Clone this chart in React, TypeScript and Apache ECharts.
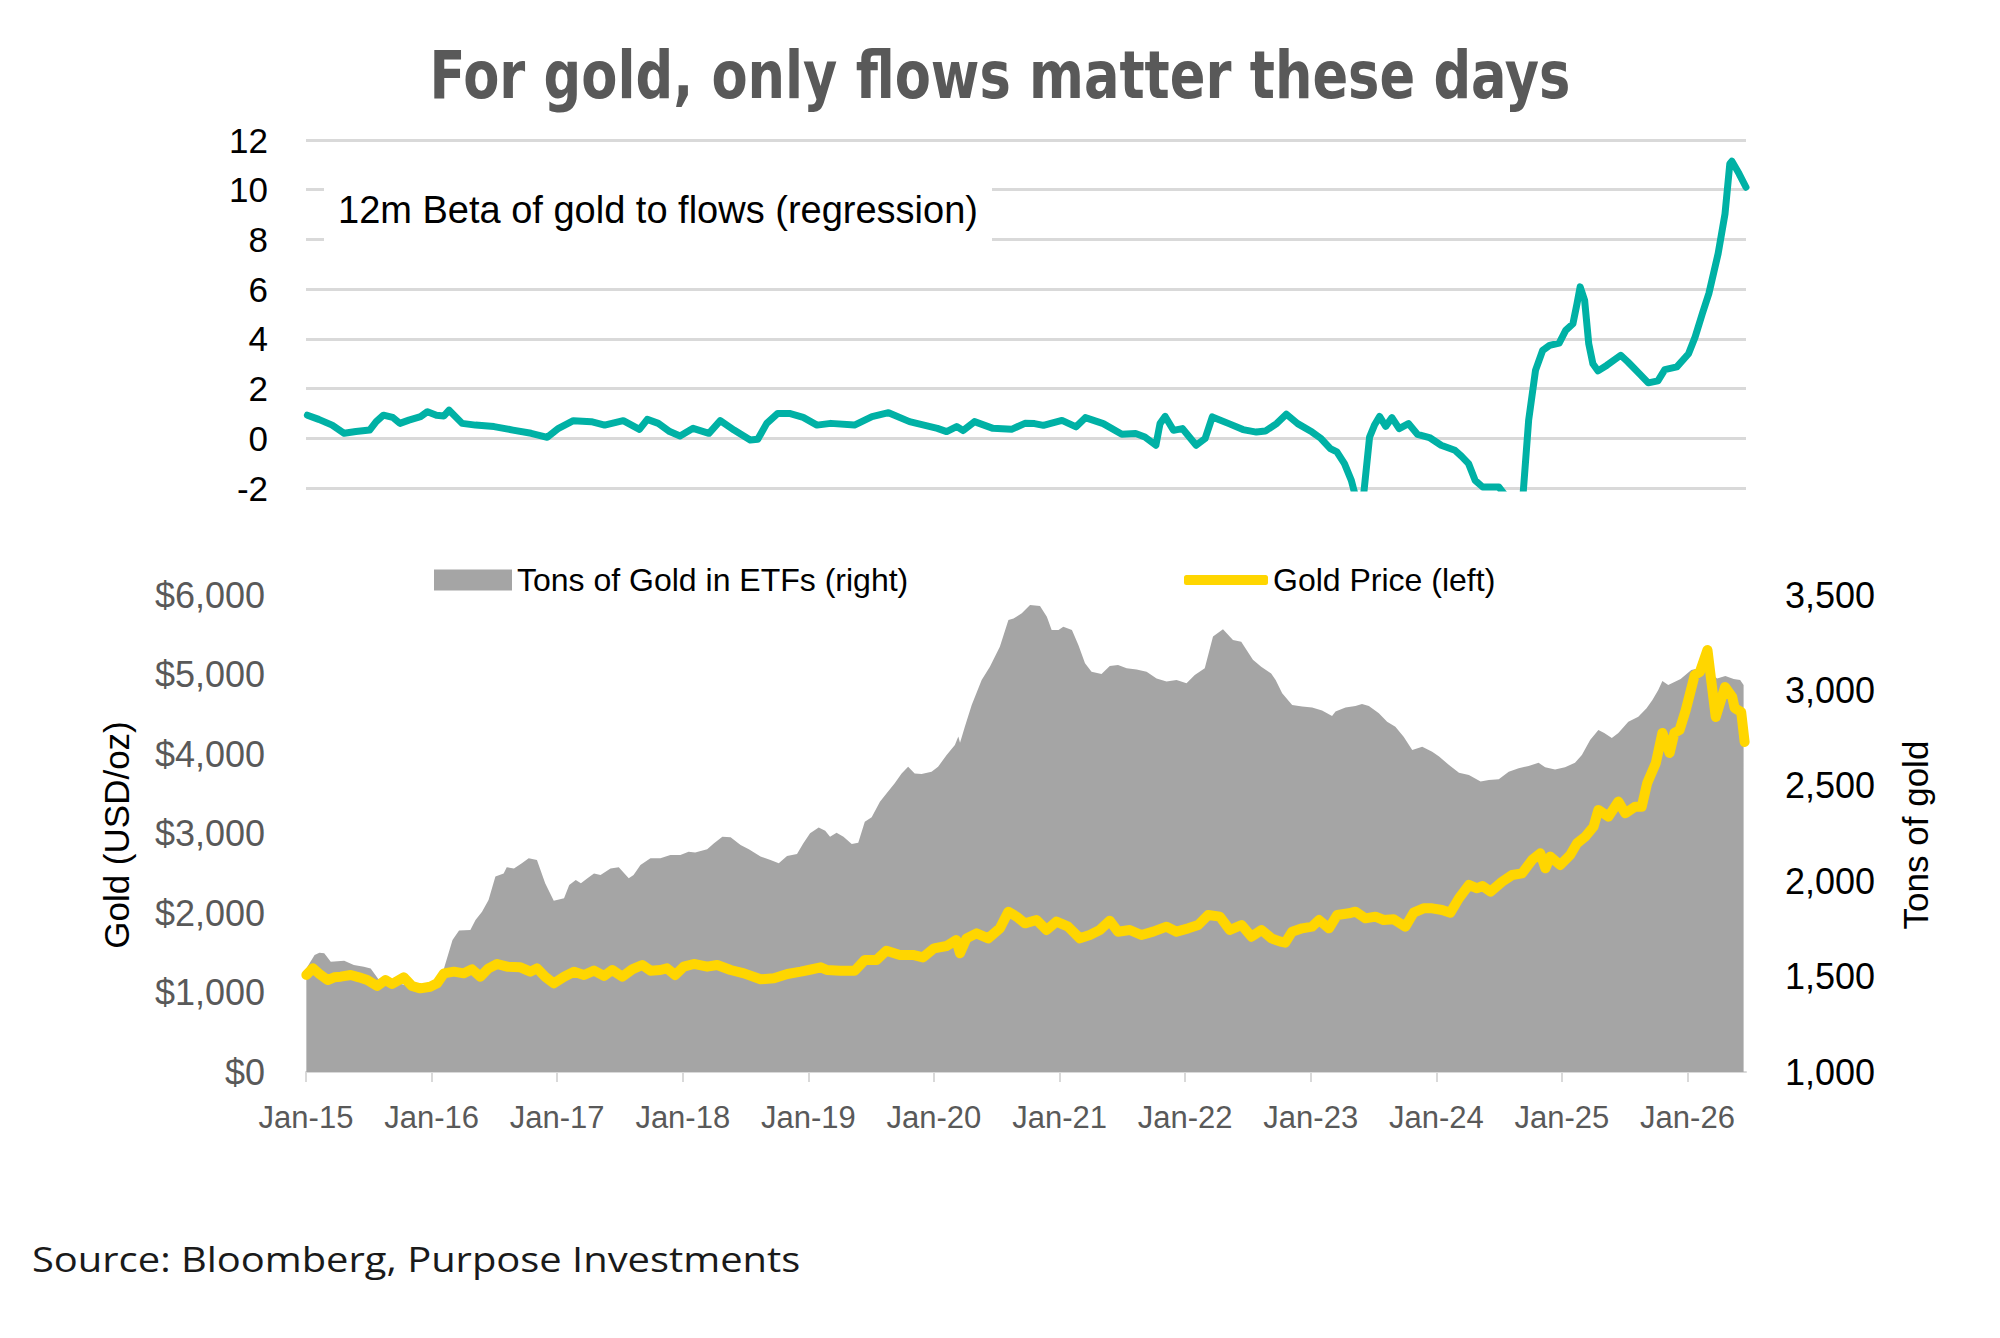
import React, { useEffect, useRef } from "react";
import * as echarts from "echarts";

// x-axis labels sit on January of each year
const yearTicks = [2015, 2016, 2017, 2018, 2019, 2020, 2021, 2022, 2023, 2024, 2025, 2026];

// 12m beta of gold to ETF flows
const betaPoints: [string, number][] = [
  ["2015-01-05", 0.93], ["2015-02-07", 0.76], ["2015-03-18", 0.53], ["2015-04-22", 0.2],
  ["2015-05-26", 0.27], ["2015-07-05", 0.33], ["2015-07-24", 0.67], ["2015-08-14", 0.93],
  ["2015-09-10", 0.84], ["2015-10-01", 0.6], ["2015-10-27", 0.73], ["2015-11-30", 0.87],
  ["2015-12-20", 1.07], ["2016-01-15", 0.93], ["2016-02-06", 0.9], ["2016-02-21", 1.13],
  ["2016-03-30", 0.6], ["2016-05-08", 0.53], ["2016-07-01", 0.47], ["2016-08-25", 0.33],
  ["2016-10-17", 0.2], ["2016-12-03", 0.04], ["2017-01-05", 0.4], ["2017-02-17", 0.71],
  ["2017-04-10", 0.67], ["2017-05-19", 0.53], ["2017-07-12", 0.71], ["2017-08-28", 0.36],
  ["2017-09-20", 0.76], ["2017-10-22", 0.6], ["2017-11-24", 0.27], ["2017-12-24", 0.09],
  ["2018-01-31", 0.4], ["2018-03-18", 0.2], ["2018-04-20", 0.71], ["2018-05-30", 0.33],
  ["2018-07-16", -0.07], ["2018-08-07", -0.04], ["2018-09-02", 0.6], ["2018-10-04", 1.0],
  ["2018-11-07", 1.0], ["2018-12-17", 0.84], ["2019-01-26", 0.53], ["2019-03-07", 0.6],
  ["2019-05-15", 0.53], ["2019-07-05", 0.87], ["2019-08-22", 1.03], ["2019-10-22", 0.67],
  ["2020-01-11", 0.4], ["2020-02-07", 0.27], ["2020-03-07", 0.47], ["2020-03-26", 0.31],
  ["2020-04-28", 0.67], ["2020-06-21", 0.4], ["2020-08-14", 0.36], ["2020-09-22", 0.6],
  ["2020-10-20", 0.59], ["2020-11-15", 0.52], ["2021-01-08", 0.72], ["2021-02-18", 0.46],
  ["2021-03-17", 0.83], ["2021-05-08", 0.59], ["2021-07-01", 0.16], ["2021-08-10", 0.19],
  ["2021-09-06", 0.05], ["2021-10-08", -0.28], ["2021-10-20", 0.59], ["2021-11-04", 0.88],
  ["2021-11-28", 0.32], ["2021-12-24", 0.39], ["2022-02-02", -0.28], ["2022-02-28", -0.01],
  ["2022-03-21", 0.86], ["2022-05-08", 0.59], ["2022-06-18", 0.35], ["2022-07-27", 0.25],
  ["2022-08-22", 0.29], ["2022-09-24", 0.59], ["2022-10-22", 0.97], ["2022-11-24", 0.59],
  ["2023-01-05", 0.25], ["2023-01-31", -0.01], ["2023-02-27", -0.42], ["2023-03-18", -0.55],
  ["2023-04-09", -1.02], ["2023-04-29", -1.69], ["2023-05-16", -2.6], ["2023-06-02", -2.5],
  ["2023-06-21", 0.05], ["2023-07-05", 0.52], ["2023-07-20", 0.88], ["2023-08-07", 0.48],
  ["2023-08-25", 0.83], ["2023-09-15", 0.39], ["2023-10-12", 0.59], ["2023-11-07", 0.16],
  ["2023-12-12", 0.03], ["2024-01-15", -0.28], ["2024-02-24", -0.48], ["2024-03-14", -0.72],
  ["2024-04-04", -1.02], ["2024-04-23", -1.69], ["2024-05-15", -1.96], ["2024-07-01", -1.96],
  ["2024-07-20", -2.3], ["2024-08-18", -3.2], ["2024-09-09", -2.4], ["2024-09-26", 0.72],
  ["2024-10-16", 2.73], ["2024-11-06", 3.54], ["2024-11-26", 3.74], ["2024-12-24", 3.83],
  ["2025-01-12", 4.34], ["2025-02-02", 4.61], ["2025-02-14", 5.42], ["2025-02-23", 6.09],
  ["2025-03-08", 5.55], ["2025-03-20", 3.8], ["2025-04-01", 3.0], ["2025-04-16", 2.71],
  ["2025-05-12", 2.94], ["2025-06-21", 3.34], ["2025-07-12", 3.07], ["2025-08-14", 2.6],
  ["2025-09-09", 2.23], ["2025-10-07", 2.31], ["2025-10-27", 2.76], ["2025-12-01", 2.87],
  ["2026-01-04", 3.4], ["2026-01-23", 4.07], ["2026-02-13", 5.01], ["2026-03-04", 5.82],
  ["2026-03-31", 7.43], ["2026-04-20", 9.03], ["2026-05-04", 11.05], ["2026-05-10", 11.15],
  ["2026-05-31", 10.64], ["2026-06-20", 10.1],
];

// tons of gold held in ETFs (right axis)
const etfPoints: [string, number][] = [
  ["2015-01-02", 1543], ["2015-01-26", 1613], ["2015-02-09", 1625], ["2015-02-23", 1622],
  ["2015-03-14", 1578], ["2015-04-22", 1583], ["2015-05-20", 1561], ["2015-06-18", 1552],
  ["2015-07-08", 1543], ["2015-08-01", 1482], ["2015-09-13", 1470], ["2015-11-01", 1450],
  ["2015-12-28", 1440], ["2016-01-22", 1460], ["2016-02-06", 1543], ["2016-03-02", 1692],
  ["2016-03-21", 1741], ["2016-04-23", 1744], ["2016-05-08", 1797], ["2016-05-27", 1840],
  ["2016-06-15", 1901], ["2016-07-05", 2024], ["2016-07-29", 2041], ["2016-08-07", 2073],
  ["2016-08-28", 2067], ["2016-09-20", 2094], ["2016-10-10", 2120], ["2016-11-03", 2111],
  ["2016-11-27", 1989], ["2016-12-22", 1898], ["2017-01-21", 1910], ["2017-02-05", 1980],
  ["2017-02-24", 2006], ["2017-03-11", 1989], ["2017-03-30", 2015], ["2017-04-18", 2041],
  ["2017-05-07", 2032], ["2017-06-05", 2067], ["2017-06-29", 2073], ["2017-07-28", 2015],
  ["2017-08-11", 2032], ["2017-08-31", 2085], ["2017-09-29", 2120], ["2017-10-28", 2120],
  ["2017-11-26", 2137], ["2017-12-25", 2137], ["2018-01-18", 2155], ["2018-02-06", 2150],
  ["2018-03-13", 2167], ["2018-04-01", 2198], ["2018-04-26", 2233], ["2018-05-20", 2230],
  ["2018-06-18", 2190], ["2018-07-12", 2167], ["2018-08-15", 2129], ["2018-09-13", 2111],
  ["2018-10-07", 2094], ["2018-10-31", 2132], ["2018-11-29", 2143], ["2018-12-17", 2198],
  ["2019-01-06", 2251], ["2019-01-31", 2282], ["2019-02-19", 2265], ["2019-03-05", 2233],
  ["2019-03-24", 2254], ["2019-04-13", 2233], ["2019-05-07", 2195], ["2019-05-26", 2202],
  ["2019-06-14", 2312], ["2019-07-04", 2335], ["2019-07-28", 2417], ["2019-08-16", 2460],
  ["2019-09-09", 2513], ["2019-09-29", 2565], ["2019-10-18", 2600], ["2019-11-06", 2565],
  ["2019-11-26", 2562], ["2019-12-25", 2574], ["2020-01-13", 2600], ["2020-02-07", 2661],
  ["2020-03-02", 2714], ["2020-03-12", 2758], ["2020-03-17", 2726], ["2020-03-31", 2810],
  ["2020-04-20", 2923], ["2020-05-19", 3054], ["2020-06-12", 3124], ["2020-07-11", 3229],
  ["2020-08-05", 3369], ["2020-08-20", 3377], ["2020-09-13", 3404], ["2020-10-07", 3448],
  ["2020-11-05", 3442], ["2020-11-25", 3386], ["2020-12-09", 3316], ["2020-12-29", 3316],
  ["2021-01-12", 3334], ["2021-02-06", 3316], ["2021-02-25", 3237], ["2021-03-16", 3142],
  ["2021-04-04", 3098], ["2021-05-03", 3086], ["2021-05-27", 3128], ["2021-06-20", 3133],
  ["2021-07-15", 3116], ["2021-08-13", 3110], ["2021-09-11", 3098], ["2021-10-10", 3063],
  ["2021-11-08", 3046], ["2021-12-07", 3054], ["2022-01-05", 3037], ["2022-01-29", 3081],
  ["2022-02-27", 3116], ["2022-03-23", 3282], ["2022-04-21", 3320], ["2022-05-20", 3264],
  ["2022-06-13", 3255], ["2022-07-17", 3160], ["2022-08-10", 3124], ["2022-09-08", 3089],
  ["2022-09-21", 3055], ["2022-10-10", 2985], ["2022-11-08", 2923], ["2022-12-07", 2915],
  ["2023-01-05", 2911], ["2023-02-03", 2894], ["2023-03-04", 2866], ["2023-03-14", 2889],
  ["2023-04-12", 2911], ["2023-05-11", 2918], ["2023-05-30", 2929], ["2023-06-19", 2918],
  ["2023-07-18", 2880], ["2023-08-11", 2836], ["2023-09-04", 2810], ["2023-09-28", 2757],
  ["2023-10-23", 2688], ["2023-11-21", 2705], ["2023-12-20", 2679], ["2024-01-09", 2653],
  ["2024-02-07", 2609], ["2024-03-07", 2569], ["2024-04-05", 2557], ["2024-05-09", 2522],
  ["2024-06-02", 2531], ["2024-07-01", 2534], ["2024-07-30", 2574], ["2024-08-28", 2592],
  ["2024-09-26", 2604], ["2024-10-25", 2621], ["2024-11-13", 2597], ["2024-12-12", 2586],
  ["2025-01-10", 2597], ["2025-02-08", 2621], ["2025-02-28", 2661], ["2025-03-24", 2740],
  ["2025-04-17", 2792], ["2025-05-04", 2777], ["2025-05-26", 2750], ["2025-06-14", 2777],
  ["2025-07-13", 2836], ["2025-08-11", 2862], ["2025-09-04", 2906], ["2025-09-21", 2950],
  ["2025-10-08", 3002], ["2025-10-20", 3049], ["2025-11-06", 3028], ["2025-12-12", 3060],
  ["2026-01-12", 3107], ["2026-02-06", 3117], ["2026-03-04", 3098], ["2026-03-28", 3063],
  ["2026-04-21", 3075], ["2026-05-15", 3060], ["2026-06-03", 3055], ["2026-06-13", 3028],
];

// gold price in USD/oz (left axis)
const goldPoints: [string, number][] = [
  ["2015-01-02", 1220], ["2015-01-21", 1304], ["2015-02-09", 1233], ["2015-03-05", 1157],
  ["2015-03-24", 1191], ["2015-04-12", 1199], ["2015-05-11", 1220], ["2015-06-04", 1191],
  ["2015-06-28", 1157], ["2015-07-27", 1082], ["2015-08-20", 1157], ["2015-09-08", 1107],
  ["2015-10-12", 1191], ["2015-11-05", 1082], ["2015-11-29", 1052], ["2015-12-28", 1073],
  ["2016-01-17", 1115], ["2016-02-06", 1241], ["2016-03-06", 1262], ["2016-04-04", 1241],
  ["2016-04-28", 1291], ["2016-05-22", 1199], ["2016-06-15", 1304], ["2016-07-10", 1359],
  ["2016-08-08", 1325], ["2016-09-16", 1317], ["2016-10-15", 1262], ["2016-11-03", 1304],
  ["2016-11-27", 1199], ["2016-12-22", 1115], ["2017-01-21", 1199], ["2017-02-19", 1262],
  ["2017-03-20", 1220], ["2017-04-18", 1275], ["2017-05-17", 1208], ["2017-06-10", 1283],
  ["2017-07-09", 1199], ["2017-08-07", 1291], ["2017-09-05", 1346], ["2017-09-29", 1275],
  ["2017-10-28", 1283], ["2017-11-16", 1304], ["2017-12-10", 1220], ["2018-01-04", 1325],
  ["2018-02-02", 1359], ["2018-03-13", 1325], ["2018-04-11", 1346], ["2018-05-20", 1283],
  ["2018-06-28", 1241], ["2018-08-15", 1166], ["2018-09-23", 1178], ["2018-11-01", 1233],
  ["2018-12-10", 1262], ["2019-01-02", 1283], ["2019-02-06", 1317], ["2019-02-24", 1283],
  ["2019-04-03", 1275], ["2019-05-16", 1275], ["2019-06-14", 1409], ["2019-07-18", 1409],
  ["2019-08-16", 1526], ["2019-09-24", 1472], ["2019-11-01", 1472], ["2019-11-30", 1442],
  ["2020-01-01", 1556], ["2020-02-07", 1585], ["2020-03-06", 1660], ["2020-03-17", 1493],
  ["2020-04-05", 1681], ["2020-05-04", 1744], ["2020-06-07", 1681], ["2020-07-11", 1807],
  ["2020-08-05", 2017], ["2020-08-29", 1954], ["2020-09-22", 1870], ["2020-10-26", 1912],
  ["2020-11-24", 1786], ["2020-12-23", 1891], ["2021-01-26", 1828], ["2021-03-01", 1681],
  ["2021-03-30", 1723], ["2021-04-28", 1786], ["2021-05-27", 1904], ["2021-06-20", 1765],
  ["2021-07-24", 1786], ["2021-08-27", 1723], ["2021-09-30", 1765], ["2021-11-08", 1828],
  ["2021-12-07", 1765], ["2022-01-10", 1807], ["2022-02-08", 1849], ["2022-03-09", 1975],
  ["2022-04-12", 1954], ["2022-05-11", 1786], ["2022-06-14", 1849], ["2022-07-13", 1702],
  ["2022-08-11", 1786], ["2022-09-09", 1681], ["2022-10-05", 1640], ["2022-10-19", 1627],
  ["2022-11-08", 1765], ["2022-12-07", 1807], ["2023-01-05", 1828], ["2023-01-25", 1912],
  ["2023-02-23", 1807], ["2023-03-19", 1975], ["2023-04-22", 1996], ["2023-05-11", 2017],
  ["2023-06-09", 1933], ["2023-07-08", 1954], ["2023-08-01", 1912], ["2023-08-30", 1920],
  ["2023-10-03", 1828], ["2023-10-27", 2004], ["2023-11-25", 2059], ["2023-12-20", 2059],
  ["2024-01-18", 2038], ["2024-02-11", 2004], ["2024-03-07", 2185], ["2024-04-05", 2353],
  ["2024-04-29", 2311], ["2024-05-14", 2340], ["2024-06-07", 2269], ["2024-07-11", 2394],
  ["2024-08-09", 2478], ["2024-09-07", 2499], ["2024-10-06", 2667], ["2024-10-30", 2751],
  ["2024-11-14", 2562], ["2024-11-28", 2709], ["2024-12-27", 2604], ["2025-01-25", 2730],
  ["2025-02-14", 2877], ["2025-03-10", 2960], ["2025-04-03", 3086], ["2025-04-17", 3296],
  ["2025-05-16", 3212], ["2025-06-14", 3401], ["2025-07-04", 3254], ["2025-08-02", 3338],
  ["2025-08-21", 3338], ["2025-09-06", 3636], ["2025-10-01", 3887], ["2025-10-20", 4265],
  ["2025-11-10", 4013], ["2025-11-24", 4265], ["2025-12-09", 4302], ["2025-12-27", 4554],
  ["2026-01-22", 4994], ["2026-02-06", 5032], ["2026-02-28", 5309], ["2026-03-24", 4466],
  ["2026-04-20", 4843], ["2026-05-11", 4717], ["2026-05-18", 4579], ["2026-06-06", 4529],
  ["2026-06-16", 4151],
];

const toYear = (s: string) => {
  const [y, m, d] = s.split("-").map(Number);
  const start = Date.UTC(y, 0, 1);
  const end = Date.UTC(y + 1, 0, 1);
  return y + (Date.UTC(y, m - 1, d) - start) / (end - start);
};

const toXY = (pts: [string, number][]) => pts.map(([d, v]) => [toYear(d), v]);

const SANS = '"Liberation Sans", Arial, sans-serif';
const NARROW = '"Liberation Sans Narrow", "DejaVu Sans Condensed", "Liberation Sans", sans-serif';

const App = () => {
  const chartRef = useRef<HTMLDivElement>(null);

  useEffect(() => {
    if (!chartRef.current) return;
    const chart = echarts.init(chartRef.current, undefined, { renderer: "svg" });

    const xMin = yearTicks[0];
    const xMax = toYear(betaPoints[betaPoints.length - 1][0]);

    const option = {
      animation: false,
      backgroundColor: "#ffffff",
      grid: [
        { left: 306, right: 254, top: 140, height: 348 },
        { left: 306, right: 254, top: 595, height: 477 },
      ],
      legend: [
        {
          left: 429,
          top: 559,
          itemWidth: 78,
          itemHeight: 21,
          textStyle: { fontFamily: SANS, fontSize: 32, color: "#000" },
          data: [{ name: "Tons of Gold in ETFs (right)", icon: "rect", itemStyle: { color: "#a5a5a5" } }],
        },
        {
          left: 1179,
          top: 559,
          itemWidth: 84,
          itemHeight: 10,
          textStyle: { fontFamily: SANS, fontSize: 32, color: "#000" },
          data: [{ name: "Gold Price (left)", icon: "roundRect", itemStyle: { color: "#ffd600" } }],
        },
      ],
      xAxis: [
        { type: "value", gridIndex: 0, min: xMin, max: xMax, show: false },
        {
          type: "value",
          gridIndex: 1,
          min: xMin,
          max: xMax,
          splitLine: { show: false },
          axisLine: { lineStyle: { color: "#d9d9d9", width: 2 } },
          axisTick: { show: true, length: 10, lineStyle: { color: "#d9d9d9", width: 2 }, customValues: yearTicks },
          axisLabel: {
            customValues: yearTicks,
            margin: 30,
            color: "#595959",
            fontFamily: SANS,
            fontSize: 31,
            formatter: (v: number) => "Jan-" + String(Math.round(v) - 2000),
          },
        },
      ],
      yAxis: [
        {
          type: "value",
          gridIndex: 0,
          min: -2,
          max: 12,
          interval: 2,
          axisLine: { show: false },
          axisTick: { show: false },
          splitLine: { lineStyle: { color: "#d9d9d9", width: 3 } },
          axisLabel: { margin: 38, color: "#000", fontFamily: SANS, fontSize: 35 },
        },
        {
          type: "value",
          gridIndex: 1,
          min: 0,
          max: 6000,
          interval: 1000,
          axisLine: { show: false },
          axisTick: { show: false },
          splitLine: { show: false },
          axisLabel: {
            margin: 41,
            color: "#595959",
            fontFamily: SANS,
            fontSize: 36,
            formatter: (v: number) => "$" + v.toLocaleString("en-US"),
          },
        },
        {
          type: "value",
          gridIndex: 1,
          position: "right",
          min: 1000,
          max: 3500,
          interval: 500,
          axisLine: { show: false },
          axisTick: { show: false },
          splitLine: { show: false },
          axisLabel: {
            margin: 39,
            color: "#000",
            fontFamily: SANS,
            fontSize: 36,
            formatter: (v: number) => v.toLocaleString("en-US"),
          },
        },
      ],
      series: [
        {
          name: "12m Beta",
          type: "line",
          xAxisIndex: 0,
          yAxisIndex: 0,
          data: toXY(betaPoints),
          symbol: "none",
          clip: true,
          color: "#00b1a5",
          lineStyle: { color: "#00b1a5", width: 7, join: "round", cap: "round" },
        },
        {
          name: "Tons of Gold in ETFs (right)",
          type: "line",
          xAxisIndex: 1,
          yAxisIndex: 2,
          data: toXY(etfPoints),
          symbol: "none",
          color: "#a5a5a5",
          lineStyle: { width: 0 },
          areaStyle: { color: "#a5a5a5", opacity: 1, origin: "start" },
        },
        {
          name: "Gold Price (left)",
          type: "line",
          xAxisIndex: 1,
          yAxisIndex: 1,
          data: toXY(goldPoints),
          symbol: "none",
          color: "#ffd600",
          lineStyle: { color: "#ffd600", width: 10, join: "round", cap: "round" },
        },
      ],
      graphic: [
        {
          type: "text",
          x: 1000,
          y: 76,
          z: 20,
          scaleX: 0.9,
          style: {
            text: "For gold, only flows matter these days",
            fill: "#595959",
            fontFamily: NARROW,
            fontWeight: "bold",
            fontSize: 65,
            align: "center",
            verticalAlign: "middle",
          },
        },
        {
          type: "rect",
          z: 10,
          shape: { x: 324, y: 181, width: 668, height: 62 },
          style: { fill: "#ffffff" },
        },
        {
          type: "text",
          x: 338,
          y: 210,
          z: 11,
          style: {
            text: "12m Beta of gold to flows (regression)",
            fill: "#000",
            fontFamily: SANS,
            fontSize: 38,
            verticalAlign: "middle",
          },
        },
        {
          type: "text",
          x: 116,
          y: 835,
          rotation: Math.PI / 2,
          z: 20,
          style: {
            text: "Gold (USD/oz)",
            fill: "#000",
            fontFamily: SANS,
            fontSize: 35,
            align: "center",
            verticalAlign: "middle",
          },
        },
        {
          type: "text",
          x: 1915,
          y: 835,
          rotation: Math.PI / 2,
          z: 20,
          style: {
            text: "Tons of gold",
            fill: "#000",
            fontFamily: SANS,
            fontSize: 35,
            align: "center",
            verticalAlign: "middle",
          },
        },
        {
          type: "text",
          x: 32,
          y: 1258,
          z: 20,
          scaleX: 1.14,
          style: {
            text: "Source: Bloomberg, Purpose Investments",
            fill: "#1a1a1a",
            fontFamily: '"Open Sans", sans-serif',
            fontSize: 35,
            verticalAlign: "middle",
          },
        },
      ],
    };

    chart.setOption(option);

    return () => {
      chart.dispose();
    };
  }, []);

  return (
    <div
      ref={chartRef}
      style={{ position: "absolute", left: 0, top: 0, width: "2000px", height: "1338px", background: "#fff" }}
    />
  );
};

export default App;
